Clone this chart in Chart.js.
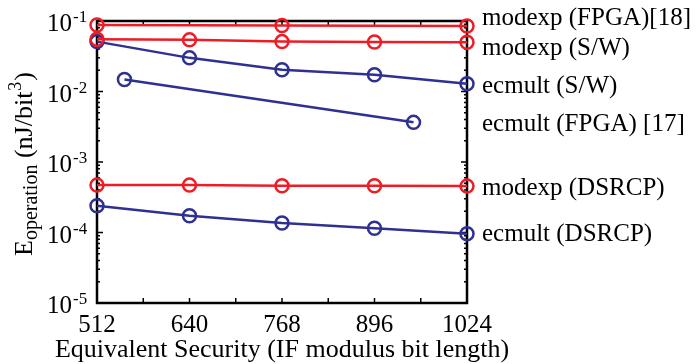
<!DOCTYPE html>
<html>
<head>
<meta charset="utf-8">
<script src="https://cdn.jsdelivr.net/npm/chart.js@4/dist/chart.umd.min.js"></script>
<style>
  html, body { margin: 0; padding: 0; background: #fff; }
  canvas { display: block; }
</style>
</head>
<body>
<canvas id="energyChart" width="698" height="364"></canvas>
<script>
// x values (IF modulus bit length)
const xKeys = [512, 640, 768, 896, 1024];
const xFpgaModexp = [512, 768, 1024];
const xFpgaEcmult = [550, 950];

// energy per operation, nJ/bit^3
const modexpFpga = [0.088, 0.086, 0.085];
const modexpSw = [0.055, 0.054, 0.051, 0.0505, 0.050];
const ecmultSw = [0.051, 0.030, 0.0204, 0.0173, 0.0129];
const ecmultFpga = [0.0148, 0.00365];
const modexpDsrcp = [0.00047, 0.00047, 0.00046, 0.00046, 0.000455];
const ecmultDsrcp = [0.00024, 0.000173, 0.000136, 0.000115, 0.000096];

// right hand side labels and where they sit (in data units)
const sideLabels = ['modexp (FPGA)[18]', 'modexp (S/W)', 'ecmult (S/W)', 'ecmult (FPGA) [17]', 'modexp (DSRCP)', 'ecmult (DSRCP)'];
const sideLabelY = [0.108, 0.0411, 0.0118, 0.00338, 0.000425, 0.0000936];

const yExponents = [-5, -4, -3, -2, -1];
const xTickStep = 64;
const xTitle = 'Equivalent Security (IF modulus bit length)';

const RED = '#ee1c25';
const BLUE = '#2e3192';
const FONT = '"Liberation Serif", "Times New Roman", serif';

function pts(xs, ys) {
  return xs.map((x, i) => ({ x: x, y: ys[i] }));
}

function series(label, xs, ys, color) {
  return {
    label: label,
    data: pts(xs, ys),
    borderColor: color,
    borderWidth: 2.5,
    pointRadius: 6.5,
    pointHoverRadius: 6.5,
    pointBorderWidth: 2.5,
    pointBorderColor: color,
    pointBackgroundColor: 'rgba(0,0,0,0)',
    fill: false,
    tension: 0,
    clip: false
  };
}

// box, inward ticks, y labels, side labels, axis titles
const matlabAxes = {
  id: 'matlabAxes',
  beforeDatasetsDraw(chart) {
    const { ctx, chartArea: a, scales } = chart;
    const xs = scales.x, ys = scales.y;
    ctx.save();
    ctx.strokeStyle = '#000';
    ctx.lineWidth = 2.5;
    ctx.strokeRect(a.left, a.top, a.right - a.left, a.bottom - a.top);

    ctx.lineWidth = 1.5;
    ctx.beginPath();
    for (let v = xs.min; v <= xs.max; v += xTickStep) {
      const px = xs.getPixelForValue(v);
      ctx.moveTo(px, a.bottom); ctx.lineTo(px, a.bottom - 5);
      ctx.moveTo(px, a.top); ctx.lineTo(px, a.top + 5);
    }
    yExponents.forEach(e => {
      const py = ys.getPixelForValue(Math.pow(10, e));
      ctx.moveTo(a.left, py); ctx.lineTo(a.left + 6, py);
      ctx.moveTo(a.right, py); ctx.lineTo(a.right - 6, py);
      if (e < -1) {
        for (let m = 2; m <= 9; m++) {
          const pm = ys.getPixelForValue(m * Math.pow(10, e));
          ctx.moveTo(a.left, pm); ctx.lineTo(a.left + 3, pm);
          ctx.moveTo(a.right, pm); ctx.lineTo(a.right - 3, pm);
        }
      }
    });
    ctx.stroke();
    ctx.restore();
  },
  afterDraw(chart) {
    const { ctx, chartArea: a, scales } = chart;
    const ys = scales.y;
    ctx.save();
    ctx.fillStyle = '#000';
    ctx.textBaseline = 'alphabetic';

    // y tick labels 10^e
    yExponents.forEach(e => {
      const py = ys.getPixelForValue(Math.pow(10, e));
      ctx.font = '25px ' + FONT;
      ctx.textAlign = 'right';
      ctx.fillText('10', a.left - 25, py + 10);
      ctx.font = '17px ' + FONT;
      ctx.textAlign = 'left';
      ctx.fillText('-' + Math.abs(e), a.left - 24, py + 1);
    });

    // x title
    ctx.font = '26px ' + FONT;
    ctx.textAlign = 'center';
    ctx.fillText(xTitle, (a.left + a.right) / 2, 357);

    // side labels
    ctx.font = '25px ' + FONT;
    ctx.textAlign = 'left';
    ctx.textBaseline = 'middle';
    sideLabels.forEach((s, i) => {
      ctx.fillText(s, a.right + 15, ys.getPixelForValue(sideLabelY[i]));
    });

    // y title: E_operation (nJ/bit^3)
    ctx.translate(32, 256);
    ctx.rotate(-Math.PI / 2);
    ctx.textBaseline = 'alphabetic';
    let x = 0;
    ctx.font = '26px ' + FONT;
    ctx.fillText('E', x, 0); x += ctx.measureText('E').width;
    ctx.font = '20px ' + FONT;
    ctx.fillText('operation', x, 5); x += ctx.measureText('operation').width;
    ctx.font = '26px ' + FONT;
    ctx.fillText(' (nJ/bit', x, 0); x += ctx.measureText(' (nJ/bit').width;
    ctx.font = '18px ' + FONT;
    ctx.fillText('3', x + 1, -11); x += ctx.measureText('3').width + 2;
    ctx.font = '26px ' + FONT;
    ctx.fillText(')', x, 0);
    ctx.restore();
  }
};

new Chart(document.getElementById('energyChart').getContext('2d'), {
  type: 'line',
  data: {
    datasets: [
      series('modexp (FPGA)[18]', xFpgaModexp, modexpFpga, RED),
      series('modexp (S/W)', xKeys, modexpSw, RED),
      series('ecmult (S/W)', xKeys, ecmultSw, BLUE),
      series('ecmult (FPGA) [17]', xFpgaEcmult, ecmultFpga, BLUE),
      series('modexp (DSRCP)', xKeys, modexpDsrcp, RED),
      series('ecmult (DSRCP)', xKeys, ecmultDsrcp, BLUE)
    ]
  },
  options: {
    responsive: false,
    animation: false,
    devicePixelRatio: 1,
    layout: { padding: { left: 97, right: 231, top: 21, bottom: 16 } },
    plugins: {
      legend: { display: false },
      tooltip: { enabled: false }
    },
    scales: {
      x: {
        type: 'linear',
        min: 512,
        max: 1024,
        grid: { display: false, drawTicks: false },
        border: { display: false },
        ticks: {
          stepSize: xTickStep,
          autoSkip: false,
          maxRotation: 0,
          padding: 10,
          color: '#000',
          font: { family: FONT, size: 25, lineHeight: 1 },
          callback: v => (v % 128 === 0 ? String(v) : '')
        },
        title: { display: false }
      },
      y: {
        type: 'logarithmic',
        display: false,
        min: 1e-5,
        max: 1e-1
      }
    }
  },
  plugins: [matlabAxes]
});
</script>
</body>
</html>
